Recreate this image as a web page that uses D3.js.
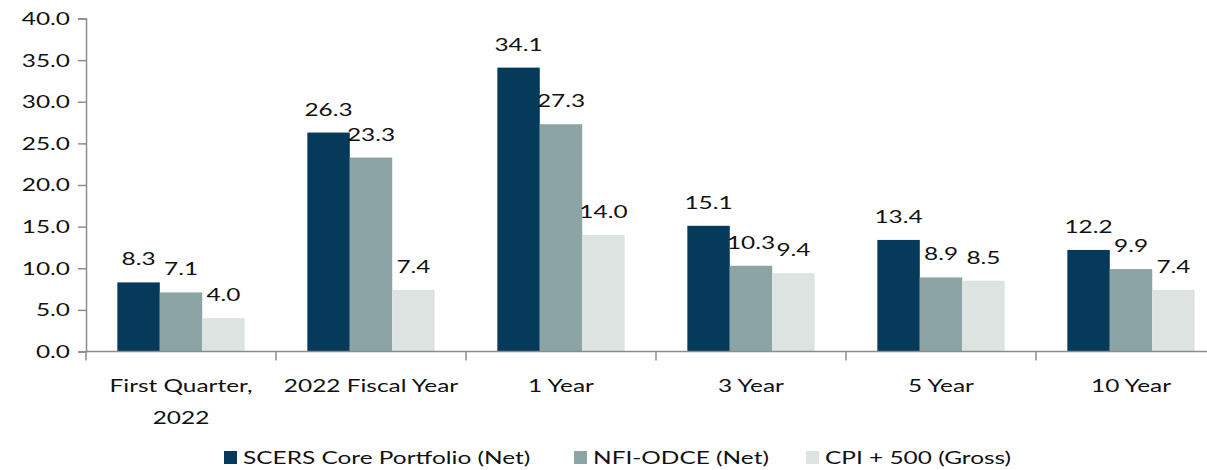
<!DOCTYPE html>
<html>

<head>
    <meta charset="utf-8">
    <style>
        body {
            margin: 0;
            background: #fff;
        }

        svg {
            display: block;
            font-family: Lato, "Open Sans", sans-serif;
        }
    </style>
</head>

<body>
    <svg width="1207" height="470"></svg>

    <script src="https://d3js.org/d3.v7.min.js"></script>
    <script>
        // chart values
        let categories = ["First Quarter,\n2022", "2022 Fiscal Year", "1 Year", "3 Year", "5 Year", "10 Year"];
        let seriesNames = ["SCERS Core Portfolio (Net)", "NFI-ODCE (Net)", "CPI + 500 (Gross)"];
        let scersValues = [8.3, 26.3, 34.1, 15.1, 13.4, 12.2];
        let odceValues = [7.1, 23.3, 27.3, 10.3, 8.9, 9.9];
        let cpiValues = [4.0, 7.4, 14.0, 9.4, 8.5, 7.4];
        let yTicks = [0, 5, 10, 15, 20, 25, 30, 35, 40];

        let colors = ["#053a5b", "#8ca4a5", "#dce3e0"];

        // source picture text is wider than normal, so stretch text horizontally
        let SX = 1.48;
        let fontSize = 16.5;

        let svg = d3.select("svg");

        let plotLeft = 86, plotRight = 86 + 6 * 190;
        let plotBottom = 351.5, plotTop = 18.5;

        let x0 = d3.scaleBand()
            .domain(categories)
            .range([plotLeft, plotRight])
            .paddingInner(0.33)
            .paddingOuter(0.165);

        let x1 = d3.scaleBand()
            .domain(seriesNames)
            .range([0, x0.bandwidth()]);

        let y = d3.scaleLinear()
            .domain([0, 40])
            .range([plotBottom, plotTop]);

        let rows = categories.map((c, i) => ({
            cat: c,
            vals: [scersValues[i], odceValues[i], cpiValues[i]]
        }));

        // stretched text helper
        function label(g, str, x, yy, anchor) {
            return g.append("text")
                .attr("transform", `translate(${x},${yy}) scale(${SX},1)`)
                .attr("text-anchor", anchor || "middle")
                .style("font-size", fontSize + "px")
                .style("fill", "#111")
                .text(str);
        }

        // bars
        let groups = svg.selectAll(".grp")
            .data(rows)
            .join("g")
            .attr("class", "grp")
            .attr("transform", d => `translate(${x0(d.cat)},0)`);

        groups.selectAll("rect")
            .data(d => d.vals.map((v, j) => ({ v: v, s: seriesNames[j], j: j })))
            .join("rect")
            .attr("x", d => x1(d.s))
            .attr("y", d => y(d.v))
            .attr("width", x1.bandwidth())
            .attr("height", d => y(0) - y(d.v))
            .style("fill", d => colors[d.j]);

        // value labels
        groups.each(function (d) {
            let g = d3.select(this);
            d.vals.forEach((v, j) => {
                label(g, v.toFixed(1), x1(seriesNames[j]) + x1.bandwidth() / 2, y(v) - 17);
            });
        });

        // y axis
        let yAxis = svg.append("g")
            .attr("transform", `translate(${plotLeft},0)`)
            .call(d3.axisLeft(y).tickValues(yTicks).tickSize(8).tickPadding(16).tickFormat(d3.format(".1f")));

        yAxis.select(".domain").attr("stroke", "#8c8c8c").attr("stroke-width", 1.5);
        yAxis.selectAll(".tick line").attr("stroke", "#8c8c8c").attr("stroke-width", 1.5);
        yAxis.selectAll(".tick text")
            .attr("x", null)
            .attr("dy", "0.36em")
            .attr("transform", `translate(-16,0) scale(${SX},1)`)
            .style("font-size", fontSize + "px")
            .style("font-family", "Lato, sans-serif")
            .style("fill", "#111");

        // x axis with ticks at group boundaries
        let xa = svg.append("g");
        xa.append("line")
            .attr("x1", plotLeft).attr("x2", plotRight)
            .attr("y1", y(0)).attr("y2", y(0))
            .attr("stroke", "#8c8c8c").attr("stroke-width", 1.5);

        let step = x0.step();
        xa.selectAll(".xt")
            .data(d3.range(categories.length + 1))
            .join("line")
            .attr("x1", i => plotLeft + i * step).attr("x2", i => plotLeft + i * step)
            .attr("y1", y(0)).attr("y2", y(0) + 9)
            .attr("stroke", "#8c8c8c").attr("stroke-width", 1.5);

        categories.forEach(c => {
            let cx = x0(c) + x0.bandwidth() / 2;
            c.split("\n").forEach((line, k) => {
                label(xa, line, cx, 392 + k * 32);
            });
        });

        // legend
        let legendX = [224, 574, 806];
        let legend = svg.append("g");
        seriesNames.forEach((s, j) => {
            legend.append("rect")
                .attr("x", legendX[j]).attr("y", 451)
                .attr("width", 13).attr("height", 13)
                .style("fill", colors[j]);
            label(legend, s, legendX[j] + 19, 464, "start");
        });
    </script>
</body>

</html>
